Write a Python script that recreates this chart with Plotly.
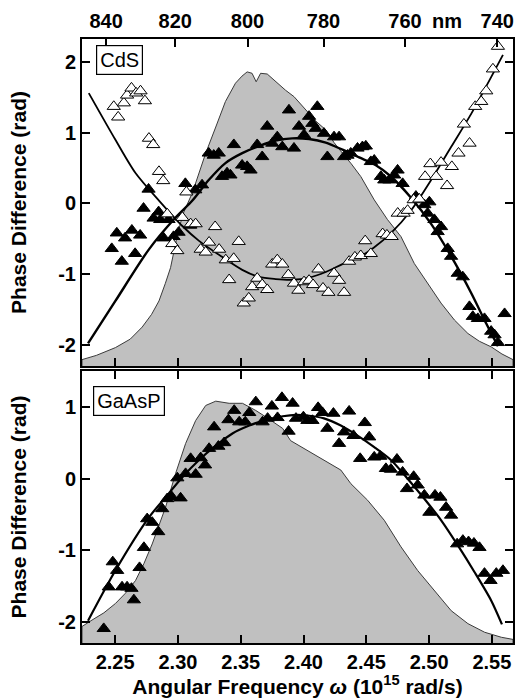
import plotly.graph_objects as go

# ---------------- data (omega in 1e15 rad/s, phase in rad) ----------------
# CdS panel: laser spectrum (arbitrary units drawn on phase scale)
cds_spec_w = [2.2236, 2.2350, 2.2502, 2.2620, 2.2715, 2.2790, 2.2849, 2.2900, 2.2941, 2.2995,
              2.3040, 2.3115, 2.3221, 2.3301, 2.3378, 2.3458, 2.3510, 2.3551, 2.3590, 2.3623,
              2.3658, 2.3711, 2.3780, 2.3857, 2.3924, 2.4017, 2.4100, 2.4177, 2.4243, 2.4310,
              2.4380, 2.4456, 2.4563, 2.4669, 2.4776, 2.4882, 2.4989, 2.5095, 2.5202, 2.5309,
              2.5400, 2.5495, 2.5580, 2.5668]
cds_spec_v = [-2.21, -2.15, -2.04, -1.92, -1.75, -1.57, -1.38, -1.13, -0.91, -0.45,
              -0.15, 0.15, 0.71, 1.08, 1.44, 1.70, 1.80, 1.86, 1.84, 1.72,
              1.84, 1.83, 1.72, 1.60, 1.51, 1.32, 1.16, 1.04, 0.86, 0.71,
              0.56, 0.38, 0.05, -0.23, -0.47, -0.85, -1.13, -1.41, -1.65, -1.84,
              -1.95, -2.03, -2.13, -2.21]

cds_fill_w = [2.2473, 2.2513, 2.2579, 2.2553, 2.2633, 2.2659, 2.2699, 2.2726, 2.2766, 2.2806,
              2.2846, 2.2859, 2.2886, 2.2925, 2.2965, 2.3005, 2.3059, 2.3098, 2.3138, 2.3192,
              2.3245, 2.3285, 2.3325, 2.3351, 2.3391, 2.3418, 2.3445, 2.3511, 2.3551, 2.3578,
              2.3631, 2.3671, 2.3711, 2.3751, 2.3791, 2.3831, 2.3884, 2.3924, 2.3964, 2.4004,
              2.4044, 2.4070, 2.4110, 2.4097, 2.4163, 2.4190, 2.4243, 2.4283, 2.4323, 2.4350,
              2.4376, 2.4430, 2.4469, 2.4496, 2.4536, 2.4563, 2.4616, 2.4643, 2.4683, 2.4722,
              2.4749, 2.4789, 2.4895, 2.4962, 2.4988, 2.5002, 2.5042, 2.5068, 2.5095, 2.5148,
              2.5175, 2.5228, 2.5268, 2.5321, 2.5348, 2.5388, 2.5441, 2.5494, 2.5521, 2.5548,
              2.5601]
cds_fill_p = [-0.64, -0.42, -0.49, -0.82, -0.38, -0.71, -0.45, -0.07, 0.20, -0.21,
              -0.12, -0.23, -0.49, -0.23, -0.47, -0.41, 0.28, -0.31, 0.19, 0.26,
              0.71, 0.68, 0.71, 0.38, 0.43, 0.40, 0.83, 0.54, 0.52, 0.47,
              0.83, 0.66, 1.09, 0.85, 0.94, 0.80, 1.32, 0.78, 1.09, 0.97,
              1.23, 1.13, 1.37, 1.06, 0.99, 0.66, 0.94, 0.94, 0.66, 0.68,
              0.71, 0.78, 0.80, 0.81, 0.59, 0.61, 0.38, 0.33, 0.33, 0.40,
              0.47, 0.28, 0.10, -0.02, -0.14, 0.02, -0.23, -0.40, -0.33, -0.64,
              -0.75, -0.99, -1.04, -1.46, -1.60, -1.63, -1.63, -1.81, -1.86, -1.97,
              -1.56]

cds_open_w = [2.2489, 2.2524, 2.2569, 2.2595, 2.2630, 2.2667, 2.2702, 2.2737, 2.2769, 2.2803,
              2.2849, 2.2883, 2.3067, 2.2915, 2.3035, 2.3101, 2.3141, 2.3296, 2.3248, 2.3328,
              2.3181, 2.3221, 2.2955, 2.2995, 2.3381, 2.3408, 2.3484, 2.3444, 2.3631, 2.3591,
              2.3671, 2.3711, 2.3524, 2.3564, 2.3751, 2.3791, 2.3831, 2.3879, 2.3924, 2.3959,
              2.4004, 2.4044, 2.4076, 2.4119, 2.4155, 2.4198, 2.4243, 2.4283, 2.4323, 2.4363,
              2.4409, 2.4456, 2.4491, 2.4536, 2.4630, 2.4664, 2.4702, 2.4750, 2.4797, 2.4829,
              2.4877, 2.4922, 2.4968, 2.5010, 2.5056, 2.5095, 2.5143, 2.5181, 2.5234, 2.5277,
              2.5322, 2.5367, 2.5415, 2.5455, 2.5508, 2.5548]
cds_open_p = [1.37, 1.22, 1.42, 1.53, 1.63, 1.56, 1.59, 1.45, 0.92, 0.83,
              0.45, 0.32, 0.16, -0.15, -0.20, -0.29, -0.29, -0.33, -0.55, -0.65,
              -0.65, -0.69, -0.57, -0.67, -0.80, -1.08, -0.54, -0.78, -1.06, -1.18,
              -1.15, -1.22, -1.41, -1.34, -0.86, -0.80, -0.86, -1.01, -1.13, -1.23,
              -1.11, -1.09, -1.15, -0.93, -1.20, -1.26, -0.99, -1.09, -1.26, -0.82,
              -0.76, -0.74, -0.53, -0.71, -0.43, -0.45, -0.47, -0.14, -0.14, -0.10,
              0.05, 0.06, 0.38, 0.56, 0.38, 0.58, 0.25, 0.52, 0.71, 1.12,
              0.85, 1.37, 1.44, 1.59, 1.90, 2.22]

cds_fit1_w = [2.2284, 2.2502, 2.2769, 2.2981, 2.3115, 2.3245, 2.3378, 2.3512, 2.3645, 2.3778,
              2.3911, 2.4044, 2.4177, 2.4310, 2.4443, 2.4576, 2.4696, 2.4856, 2.5016, 2.5176,
              2.5336, 2.5455, 2.5548]
cds_fit1_p = [-1.98, -1.38, -0.65, -0.20, 0.04, 0.33, 0.57, 0.71, 0.81, 0.89,
              0.92, 0.91, 0.86, 0.76, 0.65, 0.54, 0.38, 0.08, -0.29, -0.75,
              -1.27, -1.70, -2.02]

cds_fit2_w = [2.2290, 2.2502, 2.2662, 2.2849, 2.3035, 2.3168, 2.3354, 2.3512, 2.3645, 2.3778,
              2.3911, 2.4044, 2.4177, 2.4310, 2.4443, 2.4556, 2.4696, 2.4856, 2.5016, 2.5176,
              2.5336, 2.5495, 2.5588]
cds_fit2_p = [1.56, 0.90, 0.43, 0.04, -0.32, -0.53, -0.76, -0.94, -1.04, -1.07,
              -1.08, -1.05, -0.97, -0.86, -0.76, -0.63, -0.42, -0.10, 0.33, 0.80,
              1.27, 1.79, 2.10]

# GaAsP panel
gaasp_spec_w = [2.2236, 2.2316, 2.2410, 2.2502, 2.2580, 2.2662, 2.2730, 2.2795, 2.2850, 2.2901,
                2.2981, 2.3061, 2.3141, 2.3221, 2.3301, 2.3408, 2.3514, 2.3620, 2.3700, 2.3834,
                2.3897, 2.4031, 2.4163, 2.4297, 2.4377, 2.4510, 2.4643, 2.4776, 2.4909, 2.5042,
                2.5176, 2.5309, 2.5442, 2.5575, 2.5668]
gaasp_spec_v = [-2.06, -1.97, -1.87, -1.74, -1.60, -1.42, -1.18, -0.91, -0.65, -0.40,
                0.07, 0.49, 0.81, 1.02, 1.08, 1.05, 1.05, 0.95, 0.86, 0.70,
                0.53, 0.39, 0.26, 0.12, -0.07, -0.30, -0.58, -0.95, -1.28, -1.56,
                -1.84, -2.02, -2.14, -2.21, -2.24]

gaasp_w = [2.2409, 2.2449, 2.2481, 2.2516, 2.2555, 2.2595, 2.2630, 2.2649, 2.2694, 2.2729,
           2.2755, 2.2795, 2.2843, 2.2875, 2.2915, 2.2949, 2.3021, 2.2995, 2.3061, 2.3101,
           2.3141, 2.3181, 2.3216, 2.3248, 2.3322, 2.3368, 2.3288, 2.3402, 2.3448, 2.3488,
           2.3536, 2.3568, 2.3620, 2.3674, 2.3714, 2.3748, 2.3793, 2.3828, 2.3881, 2.3913,
           2.3940, 2.3999, 2.4031, 2.4071, 2.4116, 2.4151, 2.4190, 2.4238, 2.4283, 2.4323,
           2.4363, 2.4398, 2.4451, 2.4488, 2.4523, 2.4563, 2.4611, 2.4656, 2.4696, 2.4744,
           2.4789, 2.4824, 2.4877, 2.4909, 2.4962, 2.5002, 2.5047, 2.5090, 2.5135, 2.5175,
           2.5223, 2.5269, 2.5314, 2.5357, 2.5401, 2.5441, 2.5489, 2.5535, 2.5588]
gaasp_p = [-2.09, -1.51, -1.16, -1.28, -1.51, -1.51, -1.53, -1.69, -1.24, -0.96,
           -0.56, -0.61, -0.74, -0.42, -0.28, -0.25, -0.27, 0.01, 0.07, 0.28,
           0.06, 0.29, 0.19, 0.42, 0.45, 0.50, 0.72, 0.82, 0.95, 0.79,
           0.79, 0.92, 1.07, 0.79, 0.84, 1.01, 0.85, 1.13, 0.66, 1.05,
           0.84, 0.86, 0.81, 0.81, 0.99, 0.92, 0.70, 0.91, 0.49, 0.65,
           0.94, 0.60, 0.28, 0.78, 0.58, 0.30, 0.31, 0.14, 0.13, 0.27,
           0.09, -0.14, 0.03, -0.09, -0.23, -0.47, -0.23, -0.26, -0.40, -0.51,
           -0.91, -0.86, -0.88, -0.90, -0.96, -1.32, -1.42, -1.32, -1.28]

gaasp_fit_w = [2.2284, 2.2502, 2.2769, 2.2901, 2.3035, 2.3168, 2.3301, 2.3434, 2.3568, 2.3700,
               2.3834, 2.3940, 2.4031, 2.4163, 2.4297, 2.4430, 2.4563, 2.4696, 2.4829, 2.4962,
               2.5096, 2.5229, 2.5361, 2.5495, 2.5580]
gaasp_fit_p = [-1.98, -1.28, -0.54, -0.26, 0.02, 0.26, 0.46, 0.63, 0.74, 0.82,
               0.87, 0.89, 0.88, 0.84, 0.74, 0.60, 0.44, 0.26, 0.00, -0.28,
               -0.58, -0.93, -1.30, -1.70, -2.03]

# axes
x_range = [2.2236, 2.5668]
x_ticks = [2.25, 2.30, 2.35, 2.40, 2.45, 2.50, 2.55]
x_ticktext = ["2.25", "2.30", "2.35", "2.40", "2.45", "2.50", "2.55"]
wl_labels = ["840", "820", "800", "780", "760", "740"]
wl_tick_w = [2.2428, 2.2979, 2.3554, 2.4159, 2.4808, 2.5543]
top_range = [-2.30, 2.325]
bot_range = [-2.29, 1.50]
top_yticks = [-2, -1, 0, 1, 2]
bot_yticks = [-2, -1, 0, 1]

# ---------------- figure ----------------
FONT = "Liberation Sans, Arial, Helvetica, sans-serif"
SPEC_FILL = "#c0c0c0"
SPEC_LINE = "#3a3a3a"

fig = go.Figure()

def spectrum(xs, ys, ymin, xa, ya):
    fig.add_trace(go.Scatter(
        x=[xs[0]] + xs + [xs[-1]], y=[ymin] + ys + [ymin],
        mode="lines", fill="toself", fillcolor=SPEC_FILL,
        line=dict(color=SPEC_LINE, width=1), xaxis=xa, yaxis=ya,
        hoverinfo="skip", showlegend=False))

def fit(xs, ys, xa, ya, w=2.2):
    fig.add_trace(go.Scatter(x=xs, y=ys, mode="lines",
                             line=dict(color="black", width=w, shape="spline", smoothing=0.8),
                             xaxis=xa, yaxis=ya, showlegend=False))

def pts(xs, ys, xa, ya, filled=True):
    fig.add_trace(go.Scatter(
        x=xs, y=ys, mode="markers", xaxis=xa, yaxis=ya, showlegend=False,
        marker=dict(symbol="triangle-up", size=11.5,
                    color="black" if filled else "white",
                    line=dict(color="black", width=1))))

# top panel (CdS) uses x2/y2
spectrum(cds_spec_w, cds_spec_v, top_range[0], "x2", "y2")
fit(cds_fit1_w, cds_fit1_p, "x2", "y2", 2.4)
fit(cds_fit2_w, cds_fit2_p, "x2", "y2", 1.8)
pts(cds_fill_w, cds_fill_p, "x2", "y2", True)
pts(cds_open_w, cds_open_p, "x2", "y2", False)
# invisible trace so that the wavelength (top) axis is drawn
fig.add_trace(go.Scatter(x=[wl_tick_w[0]], y=[0], xaxis="x3", yaxis="y2", mode="markers",
                         marker=dict(size=1, opacity=0), hoverinfo="skip", showlegend=False))

# bottom panel (GaAsP) uses x/y
spectrum(gaasp_spec_w, gaasp_spec_v, bot_range[0], "x", "y")
fit(gaasp_fit_w, gaasp_fit_p, "x", "y", 2.2)
pts(gaasp_w, gaasp_p, "x", "y", True)

tickfont = dict(family=FONT, size=20, color="black", weight="bold")
titlefont = dict(family=FONT, size=21, color="black", weight="bold")
common_x = dict(range=x_range, tickvals=x_ticks, ticktext=x_ticktext, ticks="inside",
                ticklen=8, tickwidth=1.5, tickcolor="black", showline=True, linewidth=2,
                linecolor="black", showgrid=False, zeroline=False, tickfont=tickfont,
                automargin=False)
common_y = dict(ticks="inside", ticklen=8, tickwidth=1.5, tickcolor="black", showline=True,
                linewidth=2, linecolor="black", showgrid=False, zeroline=False,
                tickfont=tickfont, mirror="ticks", automargin=False)

TOP_DOM = [0.4586, 1.0]
BOT_DOM = [0.0, 0.4503]

fig.update_layout(
    width=515, height=698,
    margin=dict(l=82, r=2, t=39, b=55),
    paper_bgcolor="white", plot_bgcolor="white",
    xaxis=dict(**common_x, anchor="y", mirror="ticks",
               title=dict(text="Angular Frequency <i>ω</i> (10<sup>15</sup> rad/s)",
                          font=titlefont, standoff=8)),
    yaxis=dict(**common_y, domain=BOT_DOM, range=bot_range, tickvals=bot_yticks,
               ticktext=[str(v) for v in bot_yticks], anchor="x",
               title=dict(text="Phase Difference (rad)", font=titlefont, standoff=26)),
    xaxis2=dict(**common_x, anchor="y2", mirror=True, showticklabels=False),
    yaxis2=dict(**common_y, domain=TOP_DOM, range=top_range, tickvals=top_yticks,
                ticktext=[str(v) for v in top_yticks], anchor="x2",
                title=dict(text="Phase Difference (rad)", font=titlefont, standoff=26)),
    xaxis3=dict(range=x_range, overlaying="x2", anchor="y2", side="top",
                tickvals=wl_tick_w, ticktext=wl_labels, ticks="inside", ticklen=8,
                tickwidth=1.5, tickcolor="black", showline=False, showgrid=False,
                zeroline=False, tickfont=tickfont, automargin=False,
                ticklabelstandoff=6),
)

fig.add_annotation(text="CdS", xref="paper", yref="paper", x=0.0875, y=0.9653,
                   xanchor="center", yanchor="middle", showarrow=False,
                   font=dict(family=FONT, size=20, color="black"),
                   bgcolor="white", bordercolor="black", borderwidth=1.2, borderpad=3)
fig.add_annotation(text="GaAsP", xref="paper", yref="paper", x=0.1095, y=0.400,
                   xanchor="center", yanchor="middle", showarrow=False,
                   font=dict(family=FONT, size=20, color="black"),
                   bgcolor="white", bordercolor="black", borderwidth=1.2, borderpad=3)
fig.add_annotation(text="nm", xref="paper", yref="paper", x=0.847, y=1.0298,
                   xanchor="center", yanchor="middle", showarrow=False,
                   font=dict(family=FONT, size=20, color="black", weight="bold"))

fig.write_html("out.html", config={"displayModeBar": False},
               post_script="document.body.style.margin='0';document.body.style.overflow='hidden';")
